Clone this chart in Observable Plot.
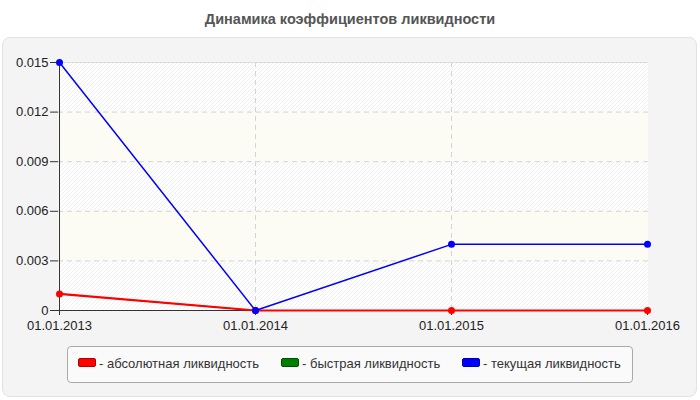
<!DOCTYPE html>
<html>
<head>
<meta charset="utf-8">
<script src="https://cdn.jsdelivr.net/npm/d3@7"></script>
<script src="https://cdn.jsdelivr.net/npm/@observablehq/plot@0.6"></script>
<style>
  html, body { margin: 0; padding: 0; background: #fff; }
  #wrap { position: relative; width: 700px; height: 400px; overflow: hidden; font-family: "Liberation Sans", Arial, sans-serif; }
  #panel { position: absolute; left: 2px; top: 37px; width: 693px; height: 358px; background: #f4f4f4; border: 1px solid #e2e2e2; border-radius: 8px; }
  #title { position: absolute; left: 0; top: 11px; width: 700px; text-align: center; font-weight: bold; font-size: 14.5px; color: #555; }
  #chart { position: absolute; left: 0; top: 0; }
  #legend { position: absolute; left: 67px; top: 346px; width: 564px; height: 35px; background: #fafafa; border: 1px solid #aaa; border-radius: 4px; }
  .item { position: absolute; top: 9px; font-size: 13px; color: #333; white-space: nowrap; line-height: 15px; }
  .sw { display: inline-block; width: 16px; height: 7px; border-radius: 2px; vertical-align: 1px; margin-right: 3px; }
</style>
</head>
<body>
<div id="wrap">
  <div id="panel"></div>
  <div id="title">Динамика коэффициентов ликвидности</div>
  <div id="chart"></div>
  <div id="legend"></div>
</div>
<script>
const dates = ["01.01.2013", "01.01.2014", "01.01.2015", "01.01.2016"];
const absoluteLiq = [0.001, 0, 0, 0];
const quickLiq = [0.001, 0, 0, 0];
const currentLiq = [0.015, 0, 0.004, 0.004];
const yTicks = [0, 0.003, 0.006, 0.009, 0.012, 0.015];
const seriesNames = ["- абсолютная ликвидность", "- быстрая ликвидность", "- текущая ликвидность"];
const seriesColors = ["#ff0000", "#008000", "#0000ff"];
const seriesBorders = ["#b00000", "#005000", "#0000a0"];

const toRows = vals => dates.map((d, i) => ({date: d, value: vals[i]}));
const absRows = toRows(absoluteLiq);
const quickRows = toRows(quickLiq);
const curRows = toRows(currentLiq);

const bands = yTicks.slice(0, -1).map((t, i) => ({y1: t, y2: yTicks[i + 1], hatched: i % 2 === 0}));

const chart = Plot.plot({
  width: 700,
  height: 400,
  marginLeft: 58,
  marginRight: 52,
  marginTop: 62,
  marginBottom: 90,
  style: {background: "transparent", fontFamily: "Liberation Sans, Arial, sans-serif", fontSize: "13px", color: "#222"},
  x: {type: "point", domain: dates, padding: 0, label: null},
  y: {domain: [0, 0.015], label: null},
  marks: [
    Plot.rect(bands, {y1: "y1", y2: "y2", fill: d => d.hatched ? "url(#hatch)" : "#fcfcf4"}),
    Plot.gridY(yTicks.slice(1, -1), {stroke: "#d4d4d4", strokeOpacity: 1, strokeDasharray: "5,4"}),
    Plot.gridX(dates.slice(1, -1), {stroke: "#d4d4d4", strokeOpacity: 1, strokeDasharray: "5,4"}),
    Plot.ruleY([yTicks[yTicks.length - 1]], {stroke: "#dcdcdc"}),
    Plot.axisY({ticks: yTicks, tickSize: 8, tickPadding: 2, fontSize: 13, tickFormat: d => d === 0 ? "0" : d.toFixed(3), stroke: "#333", fill: "#222"}),
    Plot.axisX({tickSize: 5, tickPadding: 5, fontSize: 13, stroke: "#333", fill: "#222"}),
    Plot.ruleX([dates[0]], {stroke: "#333"}),
    Plot.ruleY([0], {stroke: "#333"}),
    Plot.line(quickRows, {x: "date", y: "value", stroke: seriesColors[1], strokeWidth: 1}),
    Plot.dot(quickRows, {x: "date", y: "value", fill: seriesColors[1], r: 2.5}),
    Plot.line(absRows, {x: "date", y: "value", stroke: seriesColors[0], strokeWidth: 2.2}),
    Plot.dot(absRows, {x: "date", y: "value", fill: seriesColors[0], r: 3.5}),
    Plot.line(curRows, {x: "date", y: "value", stroke: seriesColors[2], strokeWidth: 1.5}),
    Plot.dot(curRows, {x: "date", y: "value", fill: seriesColors[2], r: 3.5})
  ]
});

const defs = d3.select(chart).insert("defs", ":first-child");
const pat = defs.append("pattern").attr("id", "hatch").attr("patternUnits", "userSpaceOnUse").attr("width", 4).attr("height", 4);
pat.append("rect").attr("width", 4).attr("height", 4).attr("fill", "#ffffff");
pat.append("path").attr("d", "M-1,1 l2,-2 M0,4 l4,-4 M3,5 l2,-2").attr("stroke", "#efefef").attr("stroke-width", 1);

document.getElementById("chart").appendChild(chart);

const legend = document.getElementById("legend");
const lefts = [10, 213, 394];
seriesNames.forEach((name, i) => {
  const it = document.createElement("div");
  it.className = "item";
  it.style.left = lefts[i] + "px";
  const sw = document.createElement("span");
  sw.className = "sw";
  sw.style.background = seriesColors[i];
  sw.style.border = "1px solid " + seriesBorders[i];
  it.appendChild(sw);
  it.appendChild(document.createTextNode(name));
  legend.appendChild(it);
});
</script>
</body>
</html>
